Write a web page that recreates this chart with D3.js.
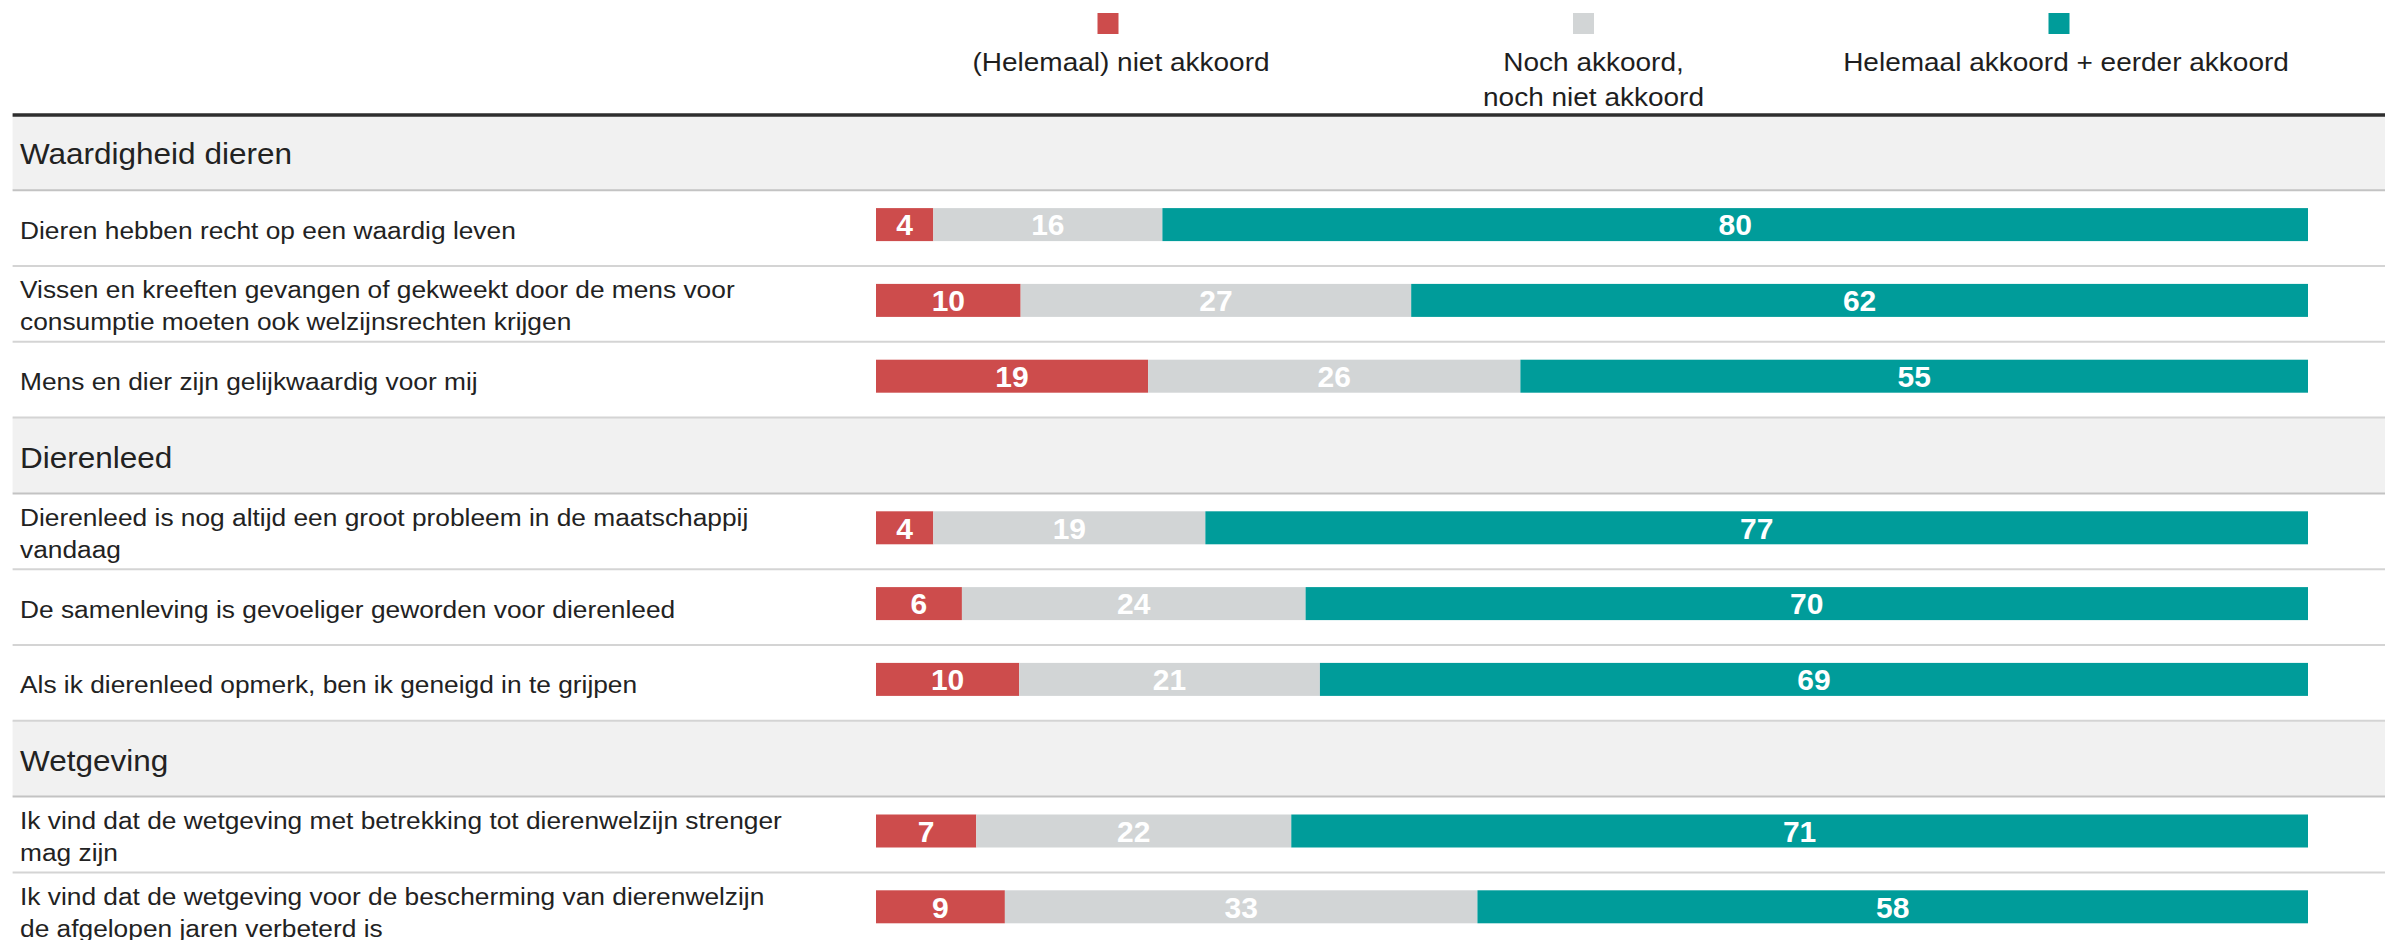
<!DOCTYPE html>
<html>
<head>
<meta charset="utf-8">
<script src="https://cdn.jsdelivr.net/npm/d3@7"></script>
<style>
  html, body { margin: 0; padding: 0; background: #fff; }
  svg { display: block; }
  text { font-family: "Liberation Sans", Arial, Helvetica, sans-serif; }
</style>
</head>
<body>
<svg id="chart" width="2385" height="940"></svg>
<script>
// ---------------- DATA ----------------
const groups = ["Waardigheid dieren", "Dierenleed", "Wetgeving"];
const statements = [
  ["Dieren hebben recht op een waardig leven"],
  ["Vissen en kreeften gevangen of gekweekt door de mens voor", "consumptie moeten ook welzijnsrechten krijgen"],
  ["Mens en dier zijn gelijkwaardig voor mij"],
  ["Dierenleed is nog altijd een groot probleem in de maatschappij", "vandaag"],
  ["De samenleving is gevoeliger geworden voor dierenleed"],
  ["Als ik dierenleed opmerk, ben ik geneigd in te grijpen"],
  ["Ik vind dat de wetgeving met betrekking tot dierenwelzijn strenger", "mag zijn"],
  ["Ik vind dat de wetgeving voor de bescherming van dierenwelzijn", "de afgelopen jaren verbeterd is"]
];
const statementGroup = [0, 0, 0, 1, 1, 1, 2, 2];
const notAgree = [4, 10, 19, 4, 6, 10, 7, 9];
const neutral  = [16, 27, 26, 19, 24, 21, 22, 33];
const agree    = [80, 62, 55, 77, 70, 69, 71, 58];
const seriesKeys = ["notAgree", "neutral", "agree"];
const seriesLabels = [
  ["(Helemaal) niet akkoord"],
  ["Noch akkoord,", "noch niet akkoord"],
  ["Helemaal akkoord + eerder akkoord"]
];
const seriesColors = ["#cd4c4c", "#d2d5d6", "#009c9a"];

// ---------------- LAYOUT ----------------
const W = 2385;
const svg = d3.select("#chart");
const lineX0 = 12.6;
const labelX = 20;
const tableTop = 114.4;
const bandH = 75.8;

// rows: headers interleaved with statements
const rows = [];
groups.forEach((g, gi) => {
  rows.push({ type: "header", text: g, id: "h" + gi });
  statements.forEach((s, si) => {
    if (statementGroup[si] === gi) {
      rows.push({
        type: "item", lines: s, id: "s" + si,
        notAgree: notAgree[si], neutral: neutral[si], agree: agree[si]
      });
    }
  });
});

const y = d3.scaleBand()
  .domain(rows.map(r => r.id))
  .range([tableTop, tableTop + rows.length * bandH])
  .padding(0);

const x = d3.scaleLinear().domain([0, 1]).range([876, 2308]);
const color = d3.scaleOrdinal().domain(seriesKeys).range(seriesColors);

const items = rows.filter(r => r.type === "item");
const stacked = d3.stack().keys(seriesKeys).offset(d3.stackOffsetExpand)(items);

// ---------------- HEADER BANDS ----------------
svg.append("g").selectAll("rect")
  .data(rows.filter(r => r.type === "header"))
  .join("rect")
  .attr("x", lineX0)
  .attr("y", d => y(d.id))
  .attr("width", W - lineX0)
  .attr("height", y.bandwidth())
  .attr("fill", "#f1f1f1");

// separators
svg.append("g").selectAll("line")
  .data(rows)
  .join("line")
  .attr("x1", lineX0).attr("x2", W)
  .attr("y1", d => y(d.id) + y.bandwidth())
  .attr("y2", d => y(d.id) + y.bandwidth())
  .attr("stroke", d => d.type === "header" ? "#c3c3c3" : "#d4d4d4")
  .attr("stroke-width", 2);

// thick top line
svg.append("line")
  .attr("x1", lineX0).attr("x2", W)
  .attr("y1", tableTop + 0.6).attr("y2", tableTop + 0.6)
  .attr("stroke", "#2e2e2e").attr("stroke-width", 3.4);

// ---------------- HEADERS TEXT ----------------
svg.append("g").selectAll("text")
  .data(rows.filter(r => r.type === "header"))
  .join("text")
  .attr("transform", d => `translate(${labelX},${y(d.id) + y.bandwidth() / 2 + 12}) scale(1.05,1)`)
  .attr("font-size", 30)
  .attr("fill", "#222")
  .text(d => d.text);

// ---------------- ROW LABELS ----------------
const lblFs = 23.5, lblLH = 31.7;
const lbl = svg.append("g").selectAll("g")
  .data(items)
  .join("g");
lbl.each(function (d) {
  const c = y(d.id) + y.bandwidth() / 2 + 10.4;
  const n = d.lines.length;
  d3.select(this).selectAll("text")
    .data(d.lines)
    .join("text")
    .attr("transform", (t, i) => `translate(${labelX},${c + (i - (n - 1) / 2) * lblLH}) scale(1.12,1)`)
    .attr("font-size", lblFs)
    .attr("fill", "#222")
    .text(t => t);
});

// ---------------- BARS ----------------
const barH = 33;
const barCenter = d => y(d.data.id) + y.bandwidth() / 2 - 3.5;

const layers = svg.append("g").selectAll("g")
  .data(stacked)
  .join("g")
  .attr("fill", s => color(s.key));

layers.selectAll("rect")
  .data(s => s)
  .join("rect")
  .attr("x", d => x(d[0]))
  .attr("y", d => barCenter(d) - barH / 2)
  .attr("width", d => x(d[1]) - x(d[0]))
  .attr("height", barH);

// value labels
const valLayers = svg.append("g").selectAll("g")
  .data(stacked)
  .join("g");
valLayers.each(function (s) {
  d3.select(this).selectAll("text")
    .data(s)
    .join("text")
    .attr("x", d => (x(d[0]) + x(d[1])) / 2)
    .attr("y", d => barCenter(d) + 10.8)
    .attr("text-anchor", "middle")
    .attr("font-size", 30)
    .attr("font-weight", "bold")
    .attr("fill", "#ffffff")
    .text(d => d.data[s.key]);
});

// ---------------- LEGEND ----------------
const legendSwatchX = d3.scalePoint().domain(seriesKeys).range([1108, 2059]);
const legendTextX = d3.scalePoint().domain(seriesKeys).range([1121, 2066]);
const lg = svg.append("g").selectAll("g")
  .data(seriesKeys)
  .join("g");
lg.append("rect")
  .attr("x", k => legendSwatchX(k) - 10.5).attr("y", 13)
  .attr("width", 21).attr("height", 21)
  .attr("fill", k => color(k));
lg.each(function (k, i) {
  d3.select(this).selectAll("text")
    .data(seriesLabels[i])
    .join("text")
    .attr("transform", (t, j) => `translate(${legendTextX(k)},${71 + j * 35}) scale(1.12,1)`)
    .attr("text-anchor", "middle")
    .attr("font-size", 25)
    .attr("fill", "#1e1e1e")
    .text(t => t);
});
</script>
</body>
</html>
